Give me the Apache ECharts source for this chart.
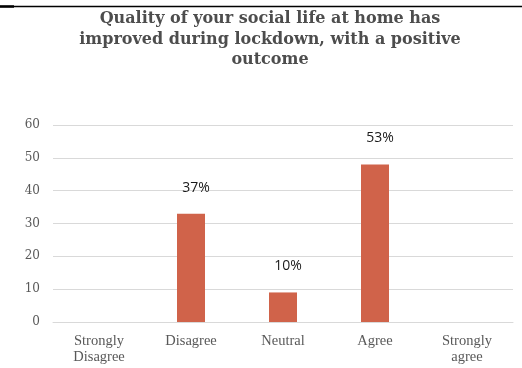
<!DOCTYPE html>
<html>
<head>
<meta charset="utf-8">
<script src="https://cdn.jsdelivr.net/npm/echarts@6/dist/echarts.min.js"></script>
<style>
  html, body { margin: 0; padding: 0; background: #ffffff; }
  #chart { width: 522px; height: 368px; }
</style>
</head>
<body>
<div id="chart"></div>
<script>
// Survey answers and the number of respondents for each
const categories = ['Strongly\nDisagree', 'Disagree', 'Neutral', 'Agree', 'Strongly\nagree'];
const responses = [0, 33, 9, 48, 0];
const yTicks = [0, 10, 20, 30, 40, 50, 60];

const titleText = 'Quality of your social life at home has\nimproved during lockdown, with a positive\noutcome';

const total = responses.reduce((a, b) => a + b, 0);

const chart = echarts.init(document.getElementById('chart'), null, { renderer: 'canvas' });

chart.setOption({
  animation: false,
  backgroundColor: '#ffffff',
  title: {
    text: titleText,
    left: 265,
    textAlign: 'center',
    top: 4,
    textStyle: {
      fontFamily: 'DejaVu Serif',
      fontWeight: 'bold',
      fontSize: 16,
      lineHeight: 20.5,
      color: '#4d4d4d'
    }
  },
  graphic: [
    { type: 'line', shape: { x1: 0, y1: 6.5, x2: 522, y2: 6.5 }, style: { stroke: '#000', lineWidth: 1.5 } },
    { type: 'line', shape: { x1: 0, y1: 6.5, x2: 14, y2: 6.5 }, style: { stroke: '#000', lineWidth: 2.5 } }
  ],
  grid: { left: 53, right: 9, top: 125, bottom: 46, containLabel: false },
  xAxis: {
    type: 'category',
    data: categories,
    axisLine: { show: true, lineStyle: { color: '#d9d9d9', width: 1 } },
    axisTick: { show: false },
    axisLabel: {
      interval: 0,
      margin: 11,
      fontFamily: 'Liberation Serif',
      fontSize: 14.5,
      lineHeight: 16,
      color: '#595959'
    }
  },
  yAxis: {
    type: 'value',
    min: yTicks[0],
    max: yTicks[yTicks.length - 1],
    interval: 10,
    axisLine: { show: false },
    axisTick: { show: false },
    splitLine: { lineStyle: { color: '#d9d9d9', width: 1 } },
    axisLabel: {
      margin: 13,
      fontFamily: 'DejaVu Serif',
      fontSize: 12,
      color: '#595959',
      formatter: v => yTicks.includes(v) ? String(v) : ''
    }
  },
  series: [{
    type: 'bar',
    data: responses,
    barWidth: 28,
    itemStyle: { color: '#d0634a' },
    label: {
      show: true,
      position: 'top',
      distance: 19,
      offset: [5, 0],
      fontFamily: 'Open Sans',
      fontSize: 14,
      color: '#1a1a1a',
      formatter: p => p.value > 0 ? Math.round(p.value / total * 100) + '%' : ''
    }
  }]
});
</script>
</body>
</html>
